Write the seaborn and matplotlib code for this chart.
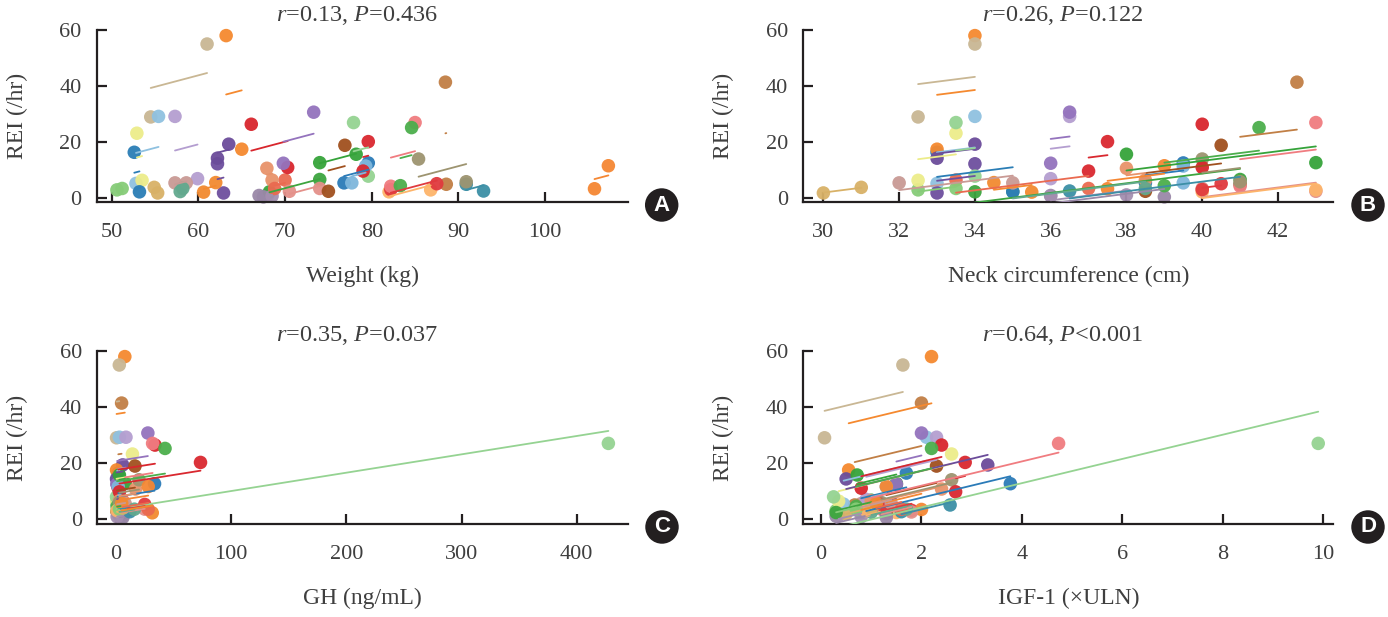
import numpy as np
import pandas as pd
import matplotlib
matplotlib.use("Agg")
import matplotlib.pyplot as plt
import seaborn as sns

# ---------------- data (two visits per subject) ----------------
subjects = [f"S{i:02d}" for i in range(1, 36)]

rei_pre = [29, 58, 41.4, 29.2, 29.2, 23.2, 16.4, 19.3, 12.3, 26.4, 30.7, 27, 12.7, 6.7, 3.5,
           18.9, 5.5, 5.5, 20.2, 1.0, 1.2, 10.7, 27, 25.2, 14, 5.0, 2.3, 3.1, 3.4, 3.0,
           1.9, 5.5, 2.4, 2.2, 6.5]
rei_post = [55, 17.5, 5.0, 5.3, 7.0, 6.4, 2.3, 14.3, 1.9, 11.0, 12.5, 7.9, 15.7, 2.3, 2.5,
            2.5, 12.6, 11.5, 9.7, 0.5, 0.8, 6.5, 4.3, 4.5, 5.9, 2.6, 3.0, 5.2, 11.6, 3.5,
            3.9, 5.5, 3.5, 5.6, 3.5]

weight_pre = [54.5, 63.2, 88.5, 55.4, 57.3, 52.9, 52.6, 63.5, 62.2, 66.1, 73.3, 77.9, 74.0, 74.0, 74.0,
              76.9, 76.8, 77.7, 79.6, 67.0, 68.0, 67.9, 85.0, 84.6, 85.4, 90.9, 82.0, 82.2, 105.7, 50.6,
              55.3, 57.3, 57.9, 60.6, 70.0]
weight_post = [61.0, 65.0, 88.6, 52.8, 59.9, 53.5, 53.2, 62.2, 62.9, 70.3, 69.8, 79.6, 78.2, 68.2, 70.5,
               75.0, 79.6, 79.3, 79.0, 67.5, 68.5, 68.5, 82.2, 83.3, 90.9, 92.9, 86.8, 87.5, 107.3, 51.2,
               54.9, 58.6, 58.2, 62.0, 68.8]

neck_pre = [32.5, 34, 42.5, 34, 36.5, 33.5, 33, 34, 34, 40, 36.5, 33.5, 43, 41, 40,
            40.5, 38.5, 39.5, 37.5, 36, 38, 38, 43, 41.5, 40, 41, 40, 40, 37.5, 32.5,
            30, 32, 35, 35.5, 33.5]
neck_post = [34, 33, 41, 33, 36, 32.5, 35, 33, 33, 40, 36, 34, 38, 34, 43,
             38.5, 39.5, 39.5, 37, 39, 36, 38.5, 41, 39, 41, 36.5, 43, 40.5, 39, 33.5,
             31, 35, 38.5, 34.5, 37]

gh_pre = [0.5, 7.7, 4.9, 3, 8.7, 14.3, 2, 5.8, 1, 33.9, 27.7, 427.5, 8, 1, 25,
          16.5, 1.5, 4, 73.4, 3, 6, 17, 31.8, 42.6, 20, 2, 4, 10, 2, 1,
          2, 1, 3, 31.5, 6]
gh_post = [2.9, 0.5, 2, 1, 2, 0.5, 6, 0.5, 2, 2, 1, 0.5, 3, 4, 5,
           1, 33.5, 2, 3, 6, 1, 3, 8, 1, 3, 12, 1, 25, 28, 3,
           6, 8, 16, 5, 28]

igf_pre = [0.07, 2.2, 2.0, 2.1, 2.3, 2.6, 1.7, 3.32, 1.5, 2.4, 2.0, 9.9, 1.5, 1.0, 1.2,
           2.3, 0.9, 1.0, 2.87, 0.3, 0.35, 2.4, 4.73, 2.2, 2.6, 2.57, 1.5, 1.8, 2.0, 0.3,
           0.5, 0.8, 1.0, 0.8, 1.1]
igf_post = [1.63, 0.55, 0.67, 0.45, 0.9, 0.35, 0.8, 0.5, 1.3, 0.8, 1.5, 0.25, 0.72, 0.3, 1.8,
            1.3, 3.77, 1.3, 2.68, 1.3, 0.8, 1.0, 1.0, 0.7, 1.2, 1.6, 0.9, 1.2, 1.3, 0.7,
            1.0, 1.4, 1.7, 1.1, 1.6]

titles = ["$r$=0.13, $P$=0.436", "$r$=0.26, $P$=0.122",
          "$r$=0.35, $P$=0.037", "$r$=0.64, $P$<0.001"]
x_labels = ["Weight (kg)", "Neck circumference (cm)", "GH (ng/mL)", "IGF-1 (\u00d7ULN)"]
y_label = "REI (/hr)"
x_ticks = [[50, 60, 70, 80, 90, 100], [30, 32, 34, 36, 38, 40, 42],
           [0, 100, 200, 300, 400], [0, 2, 4, 6, 8, 10]]
y_ticks = [0, 20, 40, 60]
panel_letters = ["A", "B", "C", "D"]

# ---------------- style ----------------
colors = ["#c9b794", "#f5892f", "#c17f45", "#8fc1e0", "#b49ed0", "#ecec8a", "#2a7db5",
          "#6b4c9a", "#6e4f9e", "#d8262d", "#9473bd", "#95d392", "#35a33a", "#3da53f",
          "#e4918a", "#a0501e", "#2b7bb8", "#7fb7dc", "#d9282f", "#9a88a8", "#a48fb0",
          "#e8936a", "#f07c80", "#4cae4c", "#9d9470", "#3c8fa6", "#fdb46a", "#e03a3e",
          "#f58733", "#86cc78", "#d8b167", "#c99a95", "#62a98e", "#f28a30", "#ea6a50"]
palette = dict(zip(subjects, colors))

sns.set_theme(style="ticks")
plt.rcParams["font.family"] = ["Liberation Serif", "DejaVu Serif"]
plt.rcParams["mathtext.fontset"] = "custom"
plt.rcParams["mathtext.it"] = "Liberation Serif:italic"
plt.rcParams["mathtext.rm"] = "Liberation Serif"

df = pd.DataFrame({
    "subject": subjects * 2,
    "rei": rei_pre + rei_post,
    "weight": weight_pre + weight_post,
    "neck": neck_pre + neck_post,
    "gh": gh_pre + gh_post,
    "igf": igf_pre + igf_post,
})


def add_rm_fit(d, xcol):
    """Repeated-measures correlation fit: common slope, subject-specific intercepts."""
    g = d.groupby("subject")
    mx = g[xcol].transform("mean")
    my = g["rei"].transform("mean")
    dx = d[xcol] - mx
    dy = d["rei"] - my
    slope = (dx * dy).sum() / (dx * dx).sum()
    return d.assign(pred=my + slope * dx)


W, H = 1388, 617
INK = "#231f20"
TXT = "#3f3f3f"

# pixel layout of each panel
layout = [
    dict(col="weight", l=97.0, t=30.0, r=628.3, b=202.3, xlim=(48.30, 109.6), y0=-1.43),
    dict(col="neck", l=803.3, t=30.0, r=1333.3, b=202.3, xlim=(29.47, 43.46), y0=-1.43),
    dict(col="gh", l=97.3, t=351.0, r=628.3, b=524.3, xlim=(-16.2, 444.8), y0=-1.9),
    dict(col="igf", l=803.3, t=351.0, r=1333.3, b=524.3, xlim=(-0.353, 10.2), y0=-1.9),
]

fig = plt.figure(figsize=(W / 100, H / 100), dpi=100)

for i, spec in enumerate(layout):
    w = spec["r"] - spec["l"]
    h = spec["b"] - spec["t"]
    ax = fig.add_axes([spec["l"] / W, 1 - spec["b"] / H, w / W, h / H])
    d = add_rm_fit(df, spec["col"])

    sns.scatterplot(data=d, x=spec["col"], y="rei", hue="subject", hue_order=subjects,
                    palette=palette, s=95, linewidth=0, alpha=0.95, legend=False,
                    ax=ax, zorder=2, clip_on=False)
    sns.lineplot(data=d, x=spec["col"], y="pred", hue="subject", hue_order=subjects,
                 palette=palette, estimator=None, sort=True, lw=1.3, legend=False,
                 ax=ax, zorder=3)

    ax.set_xlim(*spec["xlim"])
    ax.set_ylim(spec["y0"], 60)
    ax.set_xticks(x_ticks[i])
    ax.set_yticks(y_ticks)
    sns.despine(ax=ax)
    for s in ["left", "bottom"]:
        ax.spines[s].set_linewidth(1.6)
        ax.spines[s].set_color(INK)
    ax.tick_params(direction="in", length=7, width=1.6, color=INK,
                   labelcolor=TXT, labelsize=16)
    ax.tick_params(axis="x", pad=15)
    ax.tick_params(axis="y", pad=11)

    # x label centred ~74 px below the bottom spine
    ax.set_xlabel(x_labels[i], fontsize=17, color=TXT)
    ax.xaxis.set_label_coords(0.5, -74.0 / h)
    ax.xaxis.label.set_va("center")
    # y label centred ~80 px left of the left spine
    ax.set_ylabel(y_label, fontsize=17, color=TXT)
    ax.yaxis.set_label_coords(-80.0 / w, 0.5)
    ax.yaxis.label.set_va("center")

    ax.text(0.49, 1 + 15.0 / h, titles[i], transform=ax.transAxes, ha="center",
            va="center", fontsize=17.5, color=TXT)
    ax.text(564.7 / w, -2.7 / h, panel_letters[i], transform=ax.transAxes,
            ha="center", va="center", fontsize=16, fontweight="bold",
            family="Liberation Sans", color="white",
            bbox=dict(boxstyle="circle,pad=0.28", fc=INK, ec="none"))

fig.savefig("out.png", dpi=100)
